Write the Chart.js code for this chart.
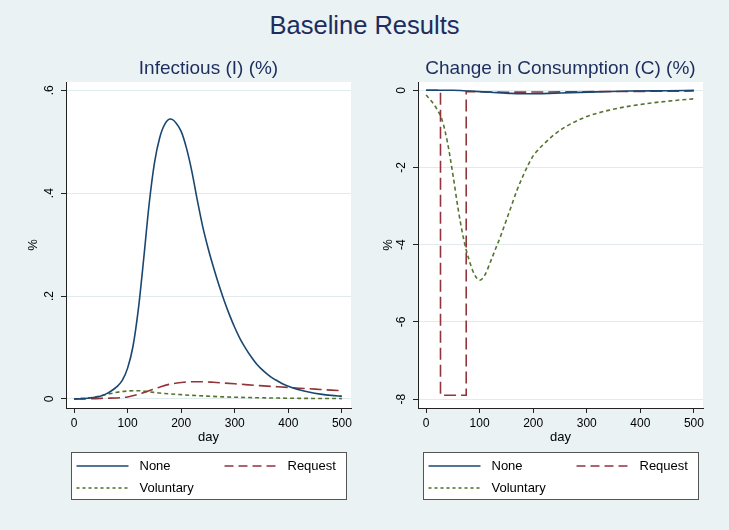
<!DOCTYPE html>
<html>
<head>
<meta charset="utf-8">
<script src="https://cdn.jsdelivr.net/npm/chart.js@4.4.1/dist/chart.umd.min.js"></script>
<style>
  html, body { margin: 0; padding: 0; background: #eaf2f3; }
  #wrap { position: relative; width: 729px; height: 530px; overflow: hidden; }
  #title { position: absolute; left: 0; top: 11px; width: 729px; text-align: center;
           font: 25.5px/28px "Liberation Sans", Arial, sans-serif; color: #1c2d5e; }
  canvas { position: absolute; left: 0; top: 0; }
</style>
</head>
<body>
<div id="wrap">
  <div id="title">Baseline Results</div>
  <canvas id="infChart" width="729" height="530"></canvas>
  <canvas id="consChart" width="729" height="530"></canvas>
</div>
<script>
// ---- data ----
const seriesLabels = ['None', 'Request', 'Voluntary'];

// Infectious (I) (%)
const infDaysNone = [0, 10, 20, 30, 40, 50, 60, 70, 80, 90, 100, 110, 120, 130, 140, 150, 160, 170, 180, 190,
  200, 210, 220, 230, 240, 250, 260, 270, 280, 290, 300, 310, 320, 330, 340, 350, 360, 370, 380, 390, 400,
  420, 440, 460, 480, 500];
const infNone = [0, 0.0005, 0.001, 0.002, 0.0035, 0.006, 0.010, 0.016, 0.024, 0.036, 0.060, 0.102, 0.174,
  0.272, 0.377, 0.458, 0.508, 0.535, 0.544, 0.537, 0.52, 0.487, 0.442, 0.387, 0.336, 0.294, 0.257, 0.223,
  0.192, 0.164, 0.139, 0.117, 0.099, 0.083, 0.069, 0.058, 0.049, 0.041, 0.035, 0.029, 0.025, 0.018, 0.013,
  0.0095, 0.007, 0.0055];
const infDaysRequest = [0, 20, 40, 60, 80, 100, 120, 140, 160, 180, 200, 220, 240, 260, 280, 300, 320, 340,
  360, 380, 400, 420, 440, 460, 480, 500];
const infRequest = [0, 0.0003, 0.0008, 0.0015, 0.002, 0.004, 0.009, 0.016, 0.023, 0.029, 0.032, 0.0335, 0.0335,
  0.0325, 0.031, 0.0295, 0.028, 0.0265, 0.025, 0.0238, 0.0225, 0.021, 0.0198, 0.0185, 0.0173, 0.016];
const infDaysVoluntary = [0, 20, 40, 60, 80, 100, 120, 140, 160, 180, 200, 220, 240, 260, 280, 300, 340, 380,
  420, 460, 500];
const infVoluntary = [0, 0.0015, 0.004, 0.0085, 0.013, 0.0155, 0.016, 0.014, 0.0115, 0.0098, 0.0084, 0.0071,
  0.006, 0.005, 0.0042, 0.0035, 0.0025, 0.0018, 0.0013, 0.001, 0.0008];
const infTicksY = [0, 0.2, 0.4, 0.6];

// Change in Consumption (C) (%)
const consDaysNone = [0, 50, 80, 120, 160, 190, 230, 270, 320, 380, 450, 500];
const consNone = [0, 0, -0.02, -0.05, -0.08, -0.09, -0.08, -0.06, -0.04, -0.02, -0.01, 0];
const consDaysRequest = [0, 27, 27, 75, 75, 150, 250, 500];
const consRequest = [0, 0, -7.9, -7.9, -0.03, -0.05, -0.04, -0.02];
const consDaysVoluntary = [0, 10, 20, 30, 40, 50, 60, 70, 80, 90, 100, 110, 120, 130, 140, 150, 160, 170, 180,
  190, 200, 210, 220, 240, 260, 280, 300, 340, 380, 420, 460, 500];
const consVoluntary = [-0.12, -0.28, -0.48, -0.77, -1.35, -2.17, -3.08, -3.84, -4.38, -4.76, -4.92, -4.78,
  -4.45, -4.1, -3.75, -3.36, -2.97, -2.58, -2.25, -1.95, -1.70, -1.53, -1.39, -1.14, -0.95, -0.8, -0.68, -0.52,
  -0.41, -0.33, -0.27, -0.22];
const consTicksY = [-8, -6, -4, -2, 0];

const dayTicks = [0, 100, 200, 300, 400, 500];

// ---- styling ----
const FONT = '"Liberation Sans", Arial, sans-serif';
const TITLE_COLOR = '#1c2d5e';
const NAVY = '#1a476f';
const MAROON = '#90353b';
const GREEN = '#55752f';

const pts = (xs, ys) => xs.map((x, i) => ({ x, y: ys[i] }));

const decorPlugin = {
    id: 'decor',
    beforeDraw: (chart) => {
        const { ctx, chartArea: a } = chart;
        ctx.save();
        ctx.fillStyle = '#ffffff';
        ctx.fillRect(a.left, a.top, a.right - a.left, a.bottom - a.top);
        ctx.restore();
    },
    afterDraw: (chart, args, opts) => {
        const { ctx, chartArea: a, scales: { y } } = chart;
        const cx = (a.left + a.right) / 2;
        ctx.save();

        // rotated y tick labels, Stata style
        ctx.fillStyle = '#000';
        ctx.font = '12px ' + FONT;
        ctx.textAlign = 'center';
        ctx.textBaseline = 'middle';
        y.ticks.forEach(t => {
            ctx.save();
            ctx.translate(a.left - 16, y.getPixelForValue(t.value));
            ctx.rotate(-Math.PI / 2);
            ctx.fillText(opts.fmt(t.value), 0, 0);
            ctx.restore();
        });

        // panel title
        ctx.fillStyle = TITLE_COLOR;
        ctx.font = '19px ' + FONT;
        ctx.fillText(opts.title, cx, 69);

        // legend box
        const bw = 275, bl = Math.round(cx - bw / 2) + 0.5, bt = 452.5, bh = 47;
        ctx.fillStyle = '#ffffff';
        ctx.fillRect(bl, bt, bw, bh);
        ctx.strokeStyle = '#555';
        ctx.lineWidth = 1;
        ctx.strokeRect(bl, bt, bw, bh);

        const slots = [[0, 466], [148, 466], [0, 488]];
        ctx.font = '13px ' + FONT;
        ctx.textAlign = 'left';
        chart.data.datasets.forEach((ds, i) => {
            const [dx, yy] = slots[i];
            ctx.strokeStyle = ds.borderColor;
            ctx.lineWidth = ds.borderWidth;
            ctx.setLineDash(ds.legendDash || []);
            ctx.beginPath();
            ctx.moveTo(bl + 5 + dx, yy);
            ctx.lineTo(bl + 57 + dx, yy);
            ctx.stroke();
            ctx.setLineDash([]);
            ctx.fillStyle = '#000';
            ctx.fillText(ds.label, bl + 68 + dx, yy);
        });
        ctx.restore();
    }
};

function makeChart(id, opts) {
    const fixTicks = vals => scale => { scale.ticks = vals.map(v => ({ value: v })); };
    return new Chart(document.getElementById(id).getContext('2d'), {
        type: 'line',
        data: {
            datasets: [{
                label: seriesLabels[0],
                data: opts.none,
                borderColor: NAVY,
                borderWidth: 1.6,
                cubicInterpolationMode: 'monotone',
                legendDash: []
            }, {
                label: seriesLabels[1],
                data: opts.request,
                borderColor: MAROON,
                borderWidth: 1.6,
                borderDash: [12, 5],
                cubicInterpolationMode: opts.requestInterp,
                legendDash: [9, 5]
            }, {
                label: seriesLabels[2],
                data: opts.voluntary,
                borderColor: GREEN,
                borderWidth: 1.6,
                borderDash: [4, 3],
                cubicInterpolationMode: 'monotone',
                legendDash: [3, 3]
            }]
        },
        options: {
            responsive: false,
            animation: false,
            events: [],
            devicePixelRatio: 1,
            elements: {
                point: { radius: 0 },
                line: { tension: 0 }
            },
            layout: {
                padding: { left: opts.left - 50, right: 729 - opts.right, top: 82, bottom: 530 - 447 }
            },
            plugins: {
                legend: { display: false },
                title: { display: false },
                tooltip: { enabled: false },
                decor: { title: opts.title, fmt: opts.fmt }
            },
            scales: {
                x: {
                    type: 'linear',
                    min: -15,
                    max: 517,
                    afterBuildTicks: fixTicks(dayTicks),
                    afterFit: s => { s.height = 39; },
                    border: { color: '#222', width: 1 },
                    grid: { drawOnChartArea: false, drawTicks: true, tickLength: 5, tickColor: '#222' },
                    ticks: { color: '#000', font: { family: FONT, size: 12 }, padding: 3, maxRotation: 0 },
                    title: { display: true, text: 'day', color: '#000', font: { family: FONT, size: 13 },
                             padding: { top: 0, bottom: 2 } }
                },
                y: {
                    min: opts.ymin,
                    max: opts.ymax,
                    afterBuildTicks: fixTicks(opts.yticks),
                    afterFit: s => { s.width = 50; },
                    border: { color: '#222', width: 1 },
                    grid: { color: '#e1eaec', lineWidth: 1, drawTicks: true, tickLength: 5, tickColor: '#222' },
                    ticks: { display: false },
                    title: { display: true, text: '%', color: '#000', font: { family: FONT, size: 13 },
                             padding: { top: opts.ytitlePad, bottom: 0 } }
                }
            }
        },
        plugins: [decorPlugin]
    });
}

makeChart('infChart', {
    title: 'Infectious (I) (%)',
    left: 66, right: 351,
    ymin: -0.0175, ymax: 0.616,
    yticks: infTicksY,
    ytitlePad: 10,
    requestInterp: 'monotone',
    fmt: v => v === 0 ? '0' : String(v).replace(/^0\./, '.'),
    none: pts(infDaysNone, infNone),
    request: pts(infDaysRequest, infRequest),
    voluntary: pts(infDaysVoluntary, infVoluntary)
});

makeChart('consChart', {
    title: 'Change in Consumption (C) (%)',
    left: 418, right: 703,
    ymin: -8.23, ymax: 0.215,
    yticks: consTicksY,
    ytitlePad: 13,
    requestInterp: 'default',
    fmt: v => String(v),
    none: pts(consDaysNone, consNone),
    request: pts(consDaysRequest, consRequest),
    voluntary: pts(consDaysVoluntary, consVoluntary)
});
</script>
</body>
</html>
